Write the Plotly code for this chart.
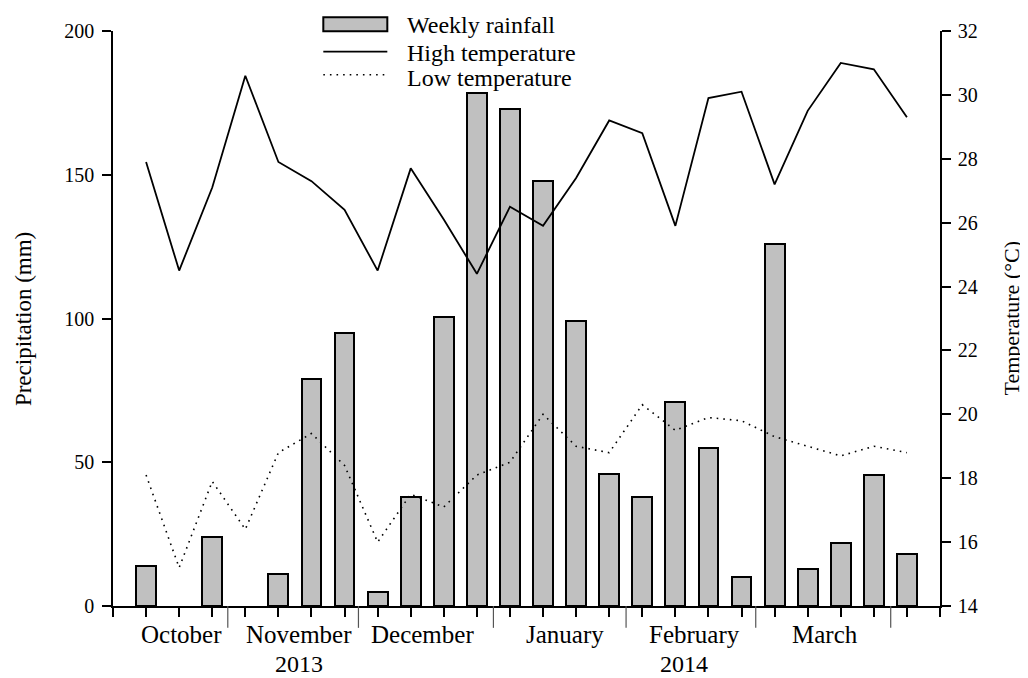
import plotly.graph_objects as go

# ---- data ----
weeks = list(range(24))
rainfall = [14, 0, 24, 0, 11, 79, 95, 5, 38, 100.5, 178.5, 173, 148, 99, 46, 38, 71, 55, 10, 126, 13, 22, 45.5, 18]
high_temp = [27.9, 24.5, 27.1, 30.6, 27.9, 27.3, 26.4, 24.5, 27.7, 26.1, 24.4, 26.5, 25.9, 27.4, 29.2, 28.8, 25.9, 29.9, 30.1, 27.2, 29.5, 31.0, 30.8, 29.3]
low_temp = [18.1, 15.2, 17.9, 16.4, 18.8, 19.4, 18.4, 16.0, 17.5, 17.1, 18.1, 18.5, 20.0, 19.0, 18.8, 20.3, 19.5, 19.9, 19.8, 19.3, 19.0, 18.7, 19.0, 18.8]
month_names = ["October", "November", "December", "January", "February", "March"]
month_label_pos = [1.08, 4.62, 8.36, 12.66, 16.58, 20.53]
month_bounds = [2.47, 6.42, 10.5, 14.51, 18.43, 22.51]
year_names = ["2013", "2014"]
year_label_pos = [4.62, 16.25]
left_ticks = [0, 50, 100, 150, 200]
right_ticks = [14, 16, 18, 20, 22, 24, 26, 28, 30, 32]

FONT = "Liberation Serif"

fig = go.Figure()
fig.add_trace(go.Bar(
    x=weeks, y=rainfall, width=0.6, name="Weekly rainfall",
    marker=dict(color="#c0c0c0",
                line=dict(color="black", width=[0 if v == 0 else 2 for v in rainfall])),
    yaxis="y"))
fig.add_trace(go.Scatter(
    x=weeks, y=high_temp, mode="lines", name="High temperature",
    line=dict(color="black", width=1.8), yaxis="y2"))
fig.add_trace(go.Scatter(
    x=weeks, y=low_temp, mode="lines", name="Low temperature",
    line=dict(color="black", width=1.6, dash="1.6px,5px"), yaxis="y2"))

axis_common = dict(showgrid=False, zeroline=False, showline=True, linecolor="black",
                   linewidth=1.5, ticks="outside", ticklen=9, tickwidth=1.5, tickcolor="black",
                   tickfont=dict(family=FONT, size=20, color="black"))

fig.update_layout(
    width=1020, height=670,
    margin=dict(l=105, r=88, t=19, b=72),
    paper_bgcolor="white", plot_bgcolor="white",
    showlegend=False,
    bargap=0,
    font=dict(family=FONT, color="black"),
    xaxis=dict(range=[-1, 24], tickvals=list(range(-1, 25)), showticklabels=False,
               **{k: v for k, v in axis_common.items() if k != "tickfont"}),
    yaxis=dict(range=[0, 200], tickvals=left_ticks, ticklabelstandoff=4, **axis_common),
    yaxis2=dict(range=[14, 32], tickvals=right_ticks, overlaying="y", side="right",
                anchor="x", ticklabelstandoff=3, **axis_common),
)

# month boundary marks
for b in month_bounds:
    fig.add_shape(type="line", xref="x", yref="paper", x0=b, x1=b, y0=0, y1=-0.038,
                  line=dict(color="#555555", width=1.2))

for name, pos in zip(month_names, month_label_pos):
    fig.add_annotation(x=pos, y=-0.0501, xref="x", yref="paper", text=name, showarrow=False,
                       xanchor="center", yanchor="middle",
                       font=dict(family=FONT, size=25, color="black"))
for name, pos in zip(year_names, year_label_pos):
    fig.add_annotation(x=pos, y=-0.1, xref="x", yref="paper", text=name, showarrow=False,
                       xanchor="center", yanchor="middle",
                       font=dict(family=FONT, size=24, color="black"))

# axis titles
fig.add_annotation(x=-0.1088, y=0.499, xref="paper", yref="paper", text="Precipitation (mm)",
                   textangle=-90, showarrow=False, xanchor="center", yanchor="middle",
                   font=dict(family=FONT, size=23, color="black"))
fig.add_annotation(x=1.087, y=0.5, xref="paper", yref="paper", text="Temperature (°C)",
                   textangle=-90, showarrow=False, xanchor="center", yanchor="middle",
                   font=dict(family=FONT, size=22, color="black"))

# legend (drawn manually)
fig.add_shape(type="rect", xref="paper", yref="paper", x0=0.2543, x1=0.3317, y0=0.9995, y1=1.0237,
              fillcolor="#c0c0c0", line=dict(color="black", width=2))
fig.add_shape(type="line", xref="paper", yref="paper", x0=0.2543, x1=0.3317, y0=0.9642, y1=0.9642,
              line=dict(color="black", width=1.8))
fig.add_shape(type="line", xref="paper", yref="paper", x0=0.2543, x1=0.3317, y0=0.924, y1=0.924,
              line=dict(color="black", width=1.6, dash="1.6px,5px"))
legend_texts = ["Weekly rainfall", "High temperature", "Low temperature"]
legend_y = [1.0104, 0.962, 0.9188]
for t, yy in zip(legend_texts, legend_y):
    fig.add_annotation(x=0.3531, y=yy, xref="paper", yref="paper", text=t, showarrow=False,
                       xanchor="left", yanchor="middle",
                       font=dict(family=FONT, size=24, color="black"))

fig.write_html("out.html")
